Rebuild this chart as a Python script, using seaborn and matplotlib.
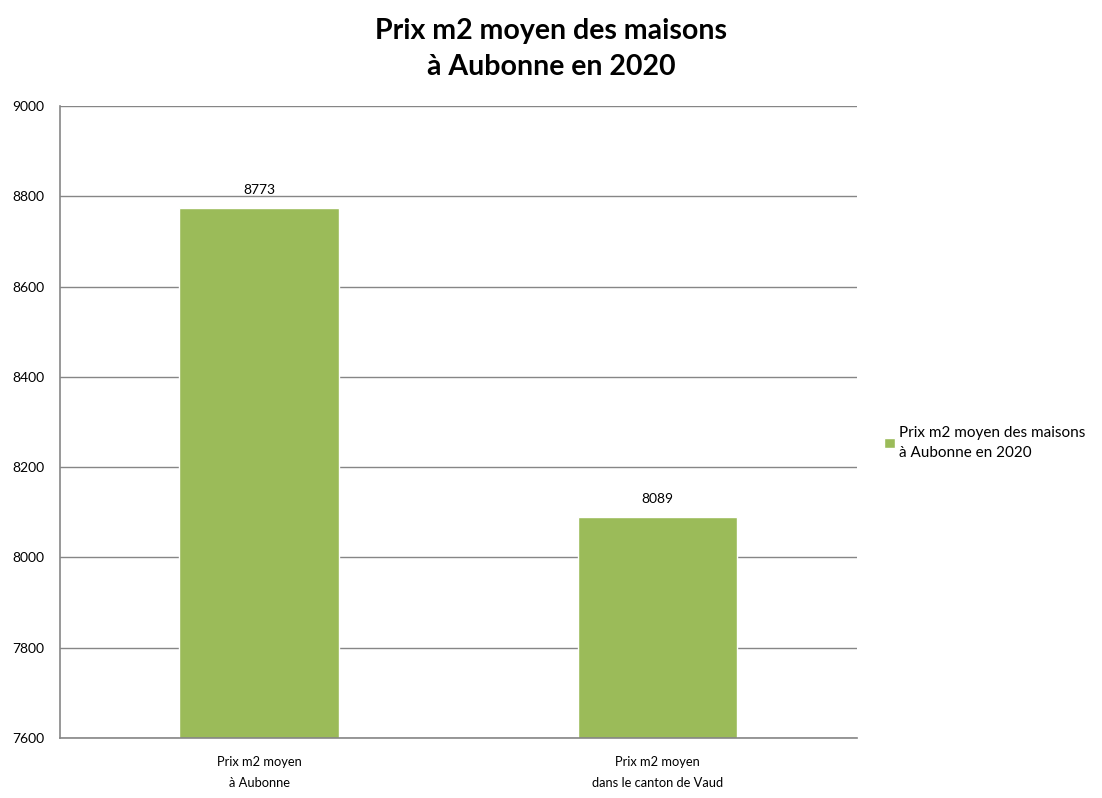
import pandas as pd
import matplotlib.pyplot as plt
import seaborn as sns

# Données du graphique
categories = ["Prix m2 moyen\nà Aubonne", "Prix m2 moyen\ndans le canton de Vaud"]
prix = [8773, 8089]
serie = "Prix m2 moyen des maisons\nà Aubonne en 2020"

df = pd.DataFrame({"categorie": categories, "prix": prix, "serie": [serie] * len(prix)})

sns.set_style("white")
plt.rcParams['font.family'] = ['Lato', 'DejaVu Sans']
plt.rcParams['text.color'] = 'black'
plt.rcParams['xtick.color'] = 'black'
plt.rcParams['ytick.color'] = 'black'

fig = plt.figure(figsize=(11.02, 7.98), dpi=100)
ax = fig.add_axes([0.0544, 0.0752, 0.7232, 0.792])

sns.barplot(data=df, x="categorie", y="prix", hue="serie", palette=["#9BBB59"],
            width=0.4, saturation=1, ax=ax, legend=True)

# Étiquettes de valeurs
for cont in ax.containers:
    ax.bar_label(cont, padding=9, fontsize=10)

ax.set_ylim(7600, 9000)
ax.set_yticks(range(7600, 9001, 200))
ax.set_xlim(-0.5, 1.5)
ax.set_xlabel("")
ax.set_ylabel("")

# Grille et axes façon Excel
ax.yaxis.grid(True, color="#868686", linewidth=1)
ax.set_axisbelow(True)
for side in ["top", "right"]:
    ax.spines[side].set_visible(False)
for side in ["left", "bottom"]:
    ax.spines[side].set_color("#868686")
    ax.spines[side].set_linewidth(1.2)

ax.tick_params(axis="y", length=5, color="#868686", direction="out", labelsize=10, pad=6)
ax.tick_params(axis="x", which="major", length=0, labelsize=9.3, pad=13)
ax.set_xticks([-0.5, 0.5, 1.5], minor=True)
ax.tick_params(axis="x", which="minor", length=5, color="#868686", direction="out")
for lbl in ax.get_xticklabels():
    lbl.set_linespacing(1.85)

# Légende à droite
ax.get_legend().remove()
handles, labels = ax.get_legend_handles_labels()
leg = fig.legend(handles, labels, loc="center left", bbox_to_anchor=(0.79, 0.445),
                 frameon=False, fontsize=11, handlelength=0.7, handleheight=0.7,
                 handletextpad=0.25)
for t in leg.get_texts():
    t.set_linespacing(1.55)

fig.suptitle("Prix m2 moyen des maisons\nà Aubonne en 2020", x=0.5, y=0.977,
             fontsize=20.5, fontweight="bold", linespacing=1.45)

plt.savefig("out.png", dpi=100)
